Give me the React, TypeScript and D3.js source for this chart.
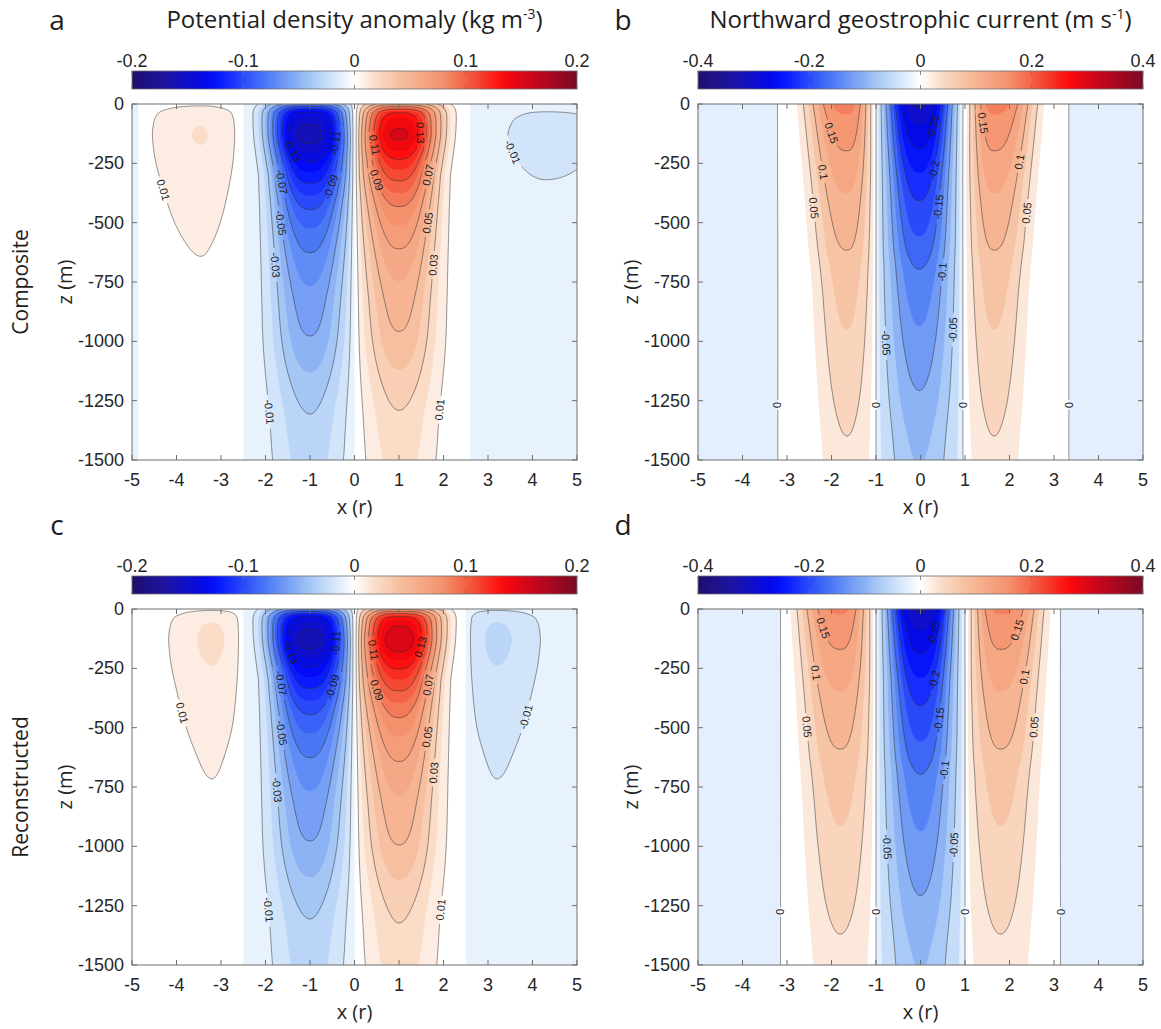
import React, { useMemo } from "react";
import * as d3 from "d3";

// ---------------- axes / ticks ----------------
const xTicks = [-5, -4, -3, -2, -1, 0, 1, 2, 3, 4, 5];
const zTicks = [0, -250, -500, -750, -1000, -1250, -1500];
const rhoBarTicks = [-0.2, -0.1, 0, 0.1, 0.2];
const velBarTicks = [-0.4, -0.2, 0, 0.2, 0.4];

// contour levels
const rhoFillLevels = d3.range(-20, 20).map((i) => +(i * 0.01).toFixed(2));
const rhoLineLevels = [-0.15, -0.13, -0.11, -0.09, -0.07, -0.05, -0.03, -0.01, 0.01, 0.03, 0.05, 0.07, 0.09, 0.11, 0.13, 0.15];
const velFillLevels = d3.range(-16, 16).map((i) => +(i * 0.025).toFixed(3));
const velLineLevels = [-0.3, -0.25, -0.2, -0.15, -0.1, -0.05, 0, 0.05, 0.1, 0.15, 0.2, 0.25];

// ---------------- colormap ----------------
const cmapPos = [0, 0.08, 0.17, 0.2, 0.3, 0.4, 0.46, 0.5, 0.54, 0.6, 0.7, 0.78, 0.83, 0.9, 1];
const cmapHex = ["#1f0f6b", "#1c14a6", "#0008f0", "#0a1cff", "#4a78f5", "#a3c6f5", "#dbeafb", "#ffffff", "#fbe1cf", "#f6c0a0", "#f4916c", "#f4442e", "#fe0a0a", "#c8061c", "#7a0a24"];

// ---------------- vertical profiles (depth m, relative amplitude) ----------------
const rhoDepths = [0, 15, 40, 80, 130, 180, 230, 290, 350, 440, 620, 800, 970, 1300, 1500];
const rhoCoreProf = [0.4, 0.65, 0.87, 0.96, 1.0, 0.95, 0.86, 0.77, 0.69, 0.585, 0.455, 0.375, 0.325, 0.195, 0.16];
const rhoEdgeProf = [0.35, 0.6, 0.85, 0.96, 1.0, 0.97, 0.92, 0.84, 0.76, 0.66, 0.5, 0.42, 0.34, 0.26, 0.23];
const velDepths = [0, 50, 150, 300, 400, 600, 700, 1000, 1200, 1400, 1500];
const velProf = [1.0, 0.94, 0.85, 0.73, 0.66, 0.55, 0.49, 0.39, 0.33, 0.27, 0.25];

// lateral shape vs depth
const shapeDepths = [0, 300, 800, 1500];
const rhoCoreExpo = [3.0, 2.8, 2.4, 2.1];
const rhoCoreWOut = [0.95, 0.84, 0.86, 0.88];
const rhoCoreWIn = [0.82, 0.88, 0.84, 0.8];
const velCoreExpo = [3.0, 2.6, 2.3, 2.0];
const velCoreW = [0.72, 0.72, 0.78, 0.85];
const velJetExpo = [3.0, 2.7, 2.4, 2.2];
const velJetWOutB = [0.9, 0.82, 0.72, 0.68];
const velJetWInB = [0.5, 0.55, 0.6, 0.63];
const velJetWOutD = [0.9, 0.85, 0.8, 0.78];
const velJetWInD = [0.62, 0.68, 0.75, 0.78];

// ---------------- lobes (a) composite density ----------------
const rhoAEdges = [-5.6, -4.85, -2.5, 0, 2.6, 5.6];
const rhoACenters = [-5.3, -3.45, -1, 1, 4.3];
const rhoAAmps = [-0.004, 0.0205, -0.155, 0.152, -0.0125];
const rhoAKinds = ["edge", "edge", "core", "core", "edge"];
const rhoAWLeft = [1, 1.3, 0, 0, 1.8];
const rhoAWRight = [1, 0.95, 0, 0, 2.6];

// (c) reconstructed density
const rhoCEdges = [-5.6, -2.5, 0, 2.5, 5.6];
const rhoCCenters = [-3.2, -1, 1, 3.2];
const rhoCAmps = [0.022, -0.155, 0.158, -0.022];
const rhoCKinds = ["edge", "core", "core", "edge"];
const rhoCWLeft = [1.1, 0, 0, 0.9];
const rhoCWRight = [0.9, 0, 0, 1.1];

// (b) composite velocity
const velBEdges = [-5.6, -3.23, -1, 0.95, 3.34, 5.6];
const velBCenters = [-4.6, -1.65, -0.03, 1.65, 4.6];
const velBAmps = [-0.016, 0.185, -0.305, 0.185, -0.016];
const velKinds = ["edge", "jet", "core", "jet", "edge"];
const velWEdge = [3, 0, 0, 0, 3];

// (d) reconstructed velocity
const velDEdges = [-5.6, -3.15, -1, 1, 3.15, 5.6];
const velDCenters = [-4.6, -1.8, 0, 1.8, 4.6];
const velDAmps = [-0.016, 0.18, -0.305, 0.18, -0.016];

// contour label anchors [level, x, z]
const rhoLabelsA = [[0.01, -4.07, -362], [-0.13, -1.42, -194], [-0.11, -0.45, -164], [-0.07, -1.6, -328], [-0.09, -0.5, -349], [-0.05, -1.64, -501], [-0.03, -1.79, -678], [-0.01, -1.91, -1297], [0.11, 0.6, -173], [0.13, 1.39, -122], [0.09, 0.65, -320], [0.07, 1.57, -299], [0.05, 1.57, -501], [0.03, 1.66, -678], [0.01, 1.96, -1288], [-0.01, 4.02, -202]];
const rhoLabelsC = [[0.01, -3.71, -438], [-0.13, -1.46, -181], [-0.11, -0.4, -143], [-0.07, -1.64, -312], [-0.09, -0.7, -328], [-0.05, -1.66, -522], [-0.03, -1.91, -762], [-0.01, -2.04, -1267], [0.11, 0.49, -173], [0.13, 1.46, -160], [0.09, 0.65, -341], [0.07, 1.69, -320], [0.05, 1.69, -539], [0.03, 1.84, -690], [0.01, 2.0, -1267], [-0.01, 3.6, -455]];
const velLabelsB = [[0.15, -1.97, -122], [0.15, 1.63, -80], [0.1, -2.19, -287], [0.1, 2.12, -244], [0.05, -2.42, -438], [0.05, 2.46, -459], [-0.25, 0.33, -97], [-0.2, 0.33, -278], [-0.15, 0.37, -434], [-0.1, 0.48, -708], [-0.05, -0.8, -1007], [-0.05, 0.66, -951], [0, -3.2, -1268], [0, -1, -1268], [0, 0.95, -1268], [0, 3.34, -1268]];
const velLabelsD = [[0.15, -2.1, -80], [0.15, 2.08, -88], [0.1, -2.3, -269], [0.1, 2.5, -286], [0.05, -2.57, -497], [0.05, 2.76, -497], [-0.25, 0.39, -101], [-0.2, 0.33, -299], [-0.15, 0.36, -467], [-0.1, 0.4, -678], [-0.05, -0.73, -1002], [-0.05, 0.7, -994], [0, -3.18, -1276], [0, -1, -1276], [0, 1, -1276], [0, 3.14, -1276]];

// ---------------- layout ----------------
const W = 1161, H = 1029;
const PW = 445, PH = 356;
const TICK_FONT = "'Liberation Sans', Arial, sans-serif";
const TEXT_FONT = "'Open Sans', 'Noto Sans', sans-serif";
const AX = "#6e6e6e";

// grid
const GX0 = -5.4, GX1 = 5.4, NX = 325;
const GD0 = -30, GD1 = 1560, NZ = 241;
const DXG = (GX1 - GX0) / (NX - 1);
const DDG = (GD1 - GD0) / (NZ - 1);

function lin(xs, ys, x) {
  if (x <= xs[0]) return ys[0];
  if (x >= xs[xs.length - 1]) return ys[ys.length - 1];
  let i = 0;
  while (x > xs[i + 1]) i++;
  const t = (x - xs[i]) / (xs[i + 1] - xs[i]);
  return ys[i] + t * (ys[i + 1] - ys[i]);
}

function monotone(xs, ys) {
  const n = xs.length;
  const d = [];
  const m = new Array(n);
  for (let i = 0; i < n - 1; i++) d.push((ys[i + 1] - ys[i]) / (xs[i + 1] - xs[i]));
  m[0] = d[0];
  m[n - 1] = d[n - 2];
  for (let i = 1; i < n - 1; i++) m[i] = d[i - 1] * d[i] <= 0 ? 0 : 2 / (1 / d[i - 1] + 1 / d[i]);
  return (x) => {
    if (x <= xs[0]) return ys[0];
    if (x >= xs[n - 1]) return ys[n - 1];
    let i = 0;
    while (x > xs[i + 1]) i++;
    const h = xs[i + 1] - xs[i], t = (x - xs[i]) / h, t2 = t * t, t3 = t2 * t;
    return (2 * t3 - 3 * t2 + 1) * ys[i] + (t3 - 2 * t2 + t) * h * m[i] + (-2 * t3 + 3 * t2) * ys[i + 1] + (t3 - t2) * h * m[i + 1];
  };
}

function cmap(t) {
  t = Math.max(0, Math.min(1, t));
  let i = 0;
  while (i < cmapPos.length - 2 && t > cmapPos[i + 1]) i++;
  const u = (t - cmapPos[i]) / (cmapPos[i + 1] - cmapPos[i]);
  return d3.interpolateRgb(cmapHex[i], cmapHex[i + 1])(u);
}

function makeField(edges, centers, amps, kinds, wLeft, wRight, opts) {
  const lobes = centers.map((c, i) => ({ a: edges[i], b: edges[i + 1], c, amp: amps[i], kind: kinds[i], wl: wLeft[i], wr: wRight[i] }));
  return (x, depth) => {
    const dd = Math.max(0, depth);
    for (const L of lobes) {
      if (x > L.a && x < L.b) {
        const dx = x - L.c;
        const outer = (dx < 0) === (L.c < 0);
        let w, p, prof;
        if (L.kind === "edge") {
          w = dx < 0 ? L.wl : L.wr;
          p = 2;
          prof = opts.edgeProf(dd);
        } else if (L.kind === "core") {
          p = lin(shapeDepths, opts.coreExpo, dd);
          w = opts.coreW ? lin(shapeDepths, opts.coreW, dd) : lin(shapeDepths, outer ? opts.coreWOut : opts.coreWIn, dd);
          prof = opts.coreProf(dd);
        } else {
          p = lin(shapeDepths, opts.jetExpo, dd);
          w = lin(shapeDepths, outer ? opts.jetWOut : opts.jetWIn, dd);
          prof = opts.coreProf(dd);
        }
        const core = Math.exp(-Math.pow(Math.abs(dx) / w, p));
        const taper = Math.tanh((x - L.a) / opts.taper) * Math.tanh((L.b - x) / opts.taper);
        return L.amp * prof * core * taper;
      }
    }
    return 0;
  };
}

function fmt(v) {
  if (Math.abs(v) < 1e-9) return "0";
  return String(+v.toFixed(3));
}

function buildPanel(F, fillLevels, lineLevels, range, anchors, left, top) {
  const sx = d3.scaleLinear([-5, 5], [left, left + PW]);
  const sy = d3.scaleLinear([0, 1500], [top, top + PH]);
  const values = new Float64Array(NX * NZ);
  for (let j = 0; j < NZ; j++) {
    const dep = GD0 + j * DDG;
    for (let i = 0; i < NX; i++) values[j * NX + i] = F(GX0 + i * DXG, dep);
  }
  const proj = d3.geoTransform({
    point(px, py) {
      this.stream.point(sx(GX0 + (px - 0.5) * DXG), sy(GD0 + (py - 0.5) * DDG));
    },
  });
  const path = d3.geoPath(proj);
  const fills = d3.contours().size([NX, NZ]).thresholds(fillLevels)(values).map((c) => ({ d: path(c), color: cmap((c.value + range) / (2 * range)) }));
  const lines = d3.contours().size([NX, NZ]).thresholds(lineLevels)(values).map((c) => path(c));
  const labels = [];
  for (const [lev, x0, z0] of anchors) {
    const dep = -z0;
    let best = null;
    let px0 = x0 - 1, pv = F(px0, dep) - lev;
    for (let x = x0 - 1 + 0.004; x <= x0 + 1; x += 0.004) {
      const v = F(x, dep) - lev;
      if (pv < 0 !== v < 0) {
        const xc = px0 + (x - px0) * (pv / (pv - v));
        if (best === null || Math.abs(xc - x0) < Math.abs(best - x0)) best = xc;
      }
      px0 = x;
      pv = v;
    }
    if (best === null) continue;
    const hx = 0.01, hd = 5;
    const gx = (F(best + hx, dep) - F(best - hx, dep)) / (sx(best + hx) - sx(best - hx));
    const gy = (F(best, dep + hd) - F(best, dep - hd)) / (sy(dep + hd) - sy(dep - hd));
    let ang = (Math.atan2(gx, -gy) * 180) / Math.PI;
    if (ang > 90) ang -= 180;
    if (ang <= -90) ang += 180;
    const text = fmt(lev);
    labels.push({ px: sx(best), py: sy(dep), ang, text, w: text.length * 6.0 + 4 });
  }
  return { fills, lines, labels, sx, sy };
}

function Panel({ id, left, top, data, barTicks, range, title, sup, letter, rowLabel }) {
  const { fills, lines, labels, sx, sy } = data;
  const barY = top - 33;
  const barScale = d3.scaleLinear([-range, range], [left, left + PW]);
  const gradStops = d3.range(0, 51).map((i) => i / 50);
  return (
    <g>
      <defs>
        <clipPath id={`clip-${id}`}>
          <rect x={left} y={top} width={PW} height={PH} />
        </clipPath>
        <mask id={`mask-${id}`} maskUnits="userSpaceOnUse" x={0} y={0} width={W} height={H}>
          <rect x={0} y={0} width={W} height={H} fill="white" />
          {labels.map((l, i) => (
            <rect key={i} x={-l.w / 2} y={-6} width={l.w} height={12} fill="black" transform={`translate(${l.px},${l.py}) rotate(${l.ang})`} />
          ))}
        </mask>
        <linearGradient id={`grad-${id}`} x1="0" x2="1" y1="0" y2="0">
          {gradStops.map((t, i) => (
            <stop key={i} offset={t} stopColor={cmap(t)} />
          ))}
        </linearGradient>
      </defs>
      <g clipPath={`url(#clip-${id})`}>
        <rect x={left} y={top} width={PW} height={PH} fill="#fff" />
        {fills.map((f, i) => (
          <path key={i} d={f.d} fill={f.color} />
        ))}
      </g>
      <g clipPath={`url(#clip-${id})`}>
        <g mask={`url(#mask-${id})`}>
          {lines.map((d, i) => (
            <path key={i} d={d} fill="none" stroke="#2b2b2b" strokeWidth={0.6} strokeOpacity={0.85} />
          ))}
        </g>
      </g>
      <g fontFamily={TICK_FONT} fontSize={11} fill="#1e1e1e">
        {labels.map((l, i) => (
          <text key={i} transform={`translate(${l.px},${l.py}) rotate(${l.ang})`} textAnchor="middle" dy="0.35em">
            {l.text}
          </text>
        ))}
      </g>
      <rect x={left} y={top} width={PW} height={PH} fill="none" stroke={AX} strokeWidth={1} />
      {xTicks.map((t) => (
        <g key={`xt${t}`}>
          <line x1={sx(t)} x2={sx(t)} y1={top + PH} y2={top + PH - 5} stroke={AX} />
          <line x1={sx(t)} x2={sx(t)} y1={top} y2={top + 5} stroke={AX} />
          <text x={sx(t)} y={top + PH + 26} textAnchor="middle" fontFamily={TICK_FONT} fontSize={18} fill="#262626">
            {String(t)}
          </text>
        </g>
      ))}
      {zTicks.map((t) => (
        <g key={`zt${t}`}>
          <line x1={left} x2={left + 5} y1={sy(-t)} y2={sy(-t)} stroke={AX} />
          <line x1={left + PW} x2={left + PW - 5} y1={sy(-t)} y2={sy(-t)} stroke={AX} />
          <text x={left - 8} y={sy(-t) + 6} textAnchor="end" fontFamily={TICK_FONT} fontSize={18} fill="#262626">
            {String(t)}
          </text>
        </g>
      ))}
      <text x={left + PW / 2} y={top + PH + 54} textAnchor="middle" fontFamily={TEXT_FONT} fontSize={20} fill="#262626">
        x (r)
      </text>
      <text transform={`translate(${left - 60},${top + PH / 2}) rotate(-90)`} textAnchor="middle" fontFamily={TEXT_FONT} fontSize={20} fill="#262626">
        z (m)
      </text>
      <rect x={left} y={barY} width={PW} height={18} fill={`url(#grad-${id})`} stroke={AX} strokeWidth={0.8} />
      {barTicks.map((t) => (
        <g key={`bt${t}`}>
          <line x1={barScale(t)} x2={barScale(t)} y1={barY} y2={barY + 4} stroke={AX} strokeWidth={0.8} />
          <line x1={barScale(t)} x2={barScale(t)} y1={barY + 18} y2={barY + 14} stroke={AX} strokeWidth={0.8} />
          <text x={barScale(t)} y={barY - 4} textAnchor="middle" fontFamily={TICK_FONT} fontSize={18} fill="#262626">
            {String(t)}
          </text>
        </g>
      ))}
      {title && (
        <text x={left + PW / 2} y={top - 76} textAnchor="middle" fontFamily={TEXT_FONT} fontSize={24} fill="#1e1e1e">
          {title}
          <tspan fontSize={14} dy={-9}>
            {sup}
          </tspan>
          <tspan dy={9}>)</tspan>
        </text>
      )}
      <text x={left - 75} y={top - 74} textAnchor="middle" fontFamily={TEXT_FONT} fontSize={28} fill="#1e1e1e">
        {letter}
      </text>
      {rowLabel && (
        <text transform={`translate(${left - 104},${top + PH / 2}) rotate(-90)`} textAnchor="middle" fontFamily={TEXT_FONT} fontSize={21} fill="#1e1e1e">
          {rowLabel}
        </text>
      )}
    </g>
  );
}

export default function App() {
  const panels = useMemo(() => {
    const rhoOpts = {
      coreProf: monotone(rhoDepths, rhoCoreProf),
      edgeProf: monotone(rhoDepths, rhoEdgeProf),
      coreExpo: rhoCoreExpo,
      coreWOut: rhoCoreWOut,
      coreWIn: rhoCoreWIn,
      taper: 0.12,
    };
    const velProfF = monotone(velDepths, velProf);
    const velOptsB = { coreProf: velProfF, edgeProf: velProfF, coreExpo: velCoreExpo, coreW: velCoreW, jetExpo: velJetExpo, jetWOut: velJetWOutB, jetWIn: velJetWInB, taper: 0.08 };
    const velOptsD = { ...velOptsB, jetWOut: velJetWOutD, jetWIn: velJetWInD };
    const FA = makeField(rhoAEdges, rhoACenters, rhoAAmps, rhoAKinds, rhoAWLeft, rhoAWRight, rhoOpts);
    const FC = makeField(rhoCEdges, rhoCCenters, rhoCAmps, rhoCKinds, rhoCWLeft, rhoCWRight, rhoOpts);
    const FB = makeField(velBEdges, velBCenters, velBAmps, velKinds, velWEdge, velWEdge, velOptsB);
    const FD = makeField(velDEdges, velDCenters, velDAmps, velKinds, velWEdge, velWEdge, velOptsD);
    return {
      a: buildPanel(FA, rhoFillLevels, rhoLineLevels, 0.2, rhoLabelsA, 132, 104),
      b: buildPanel(FB, velFillLevels, velLineLevels, 0.4, velLabelsB, 698, 104),
      c: buildPanel(FC, rhoFillLevels, rhoLineLevels, 0.2, rhoLabelsC, 132, 609),
      d: buildPanel(FD, velFillLevels, velLineLevels, 0.4, velLabelsD, 698, 609),
    };
  }, []);

  return (
    <svg width={W} height={H} style={{ position: "absolute", left: 0, top: 0, background: "#fff" }}>
      <rect x={0} y={0} width={W} height={H} fill="#fff" />
      <Panel id="a" left={132} top={104} data={panels.a} barTicks={rhoBarTicks} range={0.2} title="Potential density anomaly (kg m" sup="-3" letter="a" rowLabel="Composite" />
      <Panel id="b" left={698} top={104} data={panels.b} barTicks={velBarTicks} range={0.4} title="Northward geostrophic current (m s" sup="-1" letter="b" rowLabel={null} />
      <Panel id="c" left={132} top={609} data={panels.c} barTicks={rhoBarTicks} range={0.2} title={null} sup={null} letter="c" rowLabel="Reconstructed" />
      <Panel id="d" left={698} top={609} data={panels.d} barTicks={velBarTicks} range={0.4} title={null} sup={null} letter="d" rowLabel={null} />
    </svg>
  );
}
